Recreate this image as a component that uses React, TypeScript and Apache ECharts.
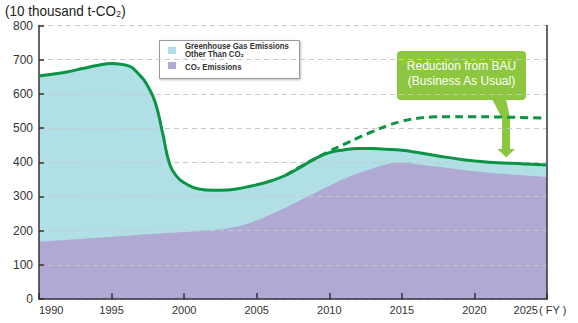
import React, { useEffect, useRef } from "react";
import * as echarts from "echarts";

// Total greenhouse gas emissions (10 thousand t-CO2)
const totalYears = [1990, 1991, 1992, 1993, 1994, 1995, 1996, 1997, 1997.5, 1998, 1998.5, 1999, 1999.5, 2000, 2001, 2002, 2003, 2004, 2005, 2006, 2007, 2008, 2009, 2010, 2011, 2012, 2013, 2014, 2015, 2016, 2017, 2018, 2019, 2020, 2021, 2022, 2023, 2024, 2025];
const totalValues = [652, 658, 665, 674, 683, 689, 684, 652, 622, 576, 489, 395, 358, 340, 322, 318, 319, 325, 334, 346, 362, 385, 410, 428, 436, 440, 440, 438, 435, 429, 422, 415, 409, 404, 400, 398, 396, 394, 392];

// CO2 emissions
const co2Years = [1990, 1992, 1995, 1998, 2000, 2002, 2003, 2004, 2005, 2006, 2007, 2008, 2009, 2010, 2011, 2012, 2013, 2014, 2015, 2016, 2018, 2020, 2022, 2025];
const co2Values = [167, 173, 182, 191, 196, 202, 207, 216, 230, 248, 268, 289, 310, 331, 351, 368, 382, 394, 399, 394, 384, 374, 366, 357];

// BAU (Business As Usual) projection
const bauYears = [2007, 2008, 2009, 2010, 2011, 2012, 2013, 2014, 2015, 2016, 2017, 2018, 2020, 2022, 2025];
const bauValues = [362, 387, 410, 432, 452, 472, 490, 507, 520, 528, 532, 533, 533, 532, 529];

const xTicks = [1990, 1995, 2000, 2005, 2010, 2015, 2020, 2025];
const yTicks = [0, 100, 200, 300, 400, 500, 600, 700, 800];

const seriesNames = {
  other: "Greenhouse Gas Emissions Other Than CO₂",
  co2: "CO₂ Emissions",
  bau: "BAU",
  total: "Total",
};

const pairs = (xs: number[], ys: number[]) => xs.map((x, i) => [x, ys[i]]);

const CYAN = "#b0e0e5";
const PURPLE = "#afa9d4";
const GREEN = "#0b9444";
const CALLOUT = "#8dc63f";
const SANS = "'Liberation Sans', Arial, sans-serif";
const SMOOTH = 0.5;

export default function App() {
  const ref = useRef<HTMLDivElement>(null);
  useEffect(() => {
    if (!ref.current) return;
    const chart = echarts.init(ref.current, null, { renderer: "svg" });
    const option: any = {
      animation: false,
      grid: { left: 39, right: 31, top: 25.5, bottom: 24, containLabel: false },
      xAxis: {
        type: "value",
        min: xTicks[0],
        max: xTicks[xTicks.length - 1],
        interval: 5,
        z: 3,
        axisLine: { show: true, lineStyle: { color: "#333", width: 1.5 } },
        axisTick: { show: true, inside: true, length: 6, lineStyle: { color: "#333", width: 1.5 } },
        splitLine: { show: false },
        axisLabel: {
          fontSize: 11,
          color: "#333",
          fontFamily: SANS,
          margin: 5,
          alignMinLabel: "left",
          alignMaxLabel: "right",
          formatter: (v: number) => (v === xTicks[xTicks.length - 1] ? `{last|${v}}` : `${v}`),
          rich: { last: { fontSize: 11, color: "#333", fontFamily: SANS, padding: [0, 9, 0, 0] } },
        },
      },
      yAxis: [
        {
          type: "value",
          min: yTicks[0],
          max: yTicks[yTicks.length - 1],
          interval: 100,
          z: 3,
          axisLine: { show: true, lineStyle: { color: "#333", width: 1.5 } },
          axisTick: { show: true, inside: true, length: 5, lineStyle: { color: "#333", width: 1.5 } },
          splitLine: { show: true, lineStyle: { color: "#c8c8c8", type: [5, 4], width: 1 } },
          axisLabel: { fontSize: 12, color: "#333", fontFamily: SANS, margin: 6 },
        },
        {
          type: "value",
          position: "right",
          min: yTicks[0],
          max: yTicks[yTicks.length - 1],
          interval: 100,
          z: 3,
          axisLine: { show: true, lineStyle: { color: "#333", width: 1.5 } },
          axisTick: { show: false },
          axisLabel: { show: false },
          splitLine: { show: false },
        },
      ],
      series: [
        {
          name: seriesNames.other,
          type: "line",
          data: pairs(totalYears, totalValues),
          smooth: SMOOTH,
          symbol: "none",
          lineStyle: { width: 0 },
          itemStyle: { color: CYAN },
          areaStyle: { color: CYAN, opacity: 1 },
          z: 1,
        },
        {
          name: seriesNames.co2,
          type: "line",
          data: pairs(co2Years, co2Values),
          smooth: SMOOTH,
          symbol: "none",
          lineStyle: { width: 0 },
          itemStyle: { color: PURPLE },
          areaStyle: { color: PURPLE, opacity: 1 },
          z: 1,
        },
        {
          name: seriesNames.bau,
          type: "line",
          data: pairs(bauYears, bauValues),
          smooth: SMOOTH,
          symbol: "none",
          lineStyle: { width: 3, color: GREEN, type: [8, 5] },
          z: 5,
        },
        {
          name: seriesNames.total,
          type: "line",
          data: pairs(totalYears, totalValues),
          smooth: SMOOTH,
          symbol: "none",
          lineStyle: { width: 3, color: GREEN },
          z: 6,
        },
      ],
      graphic: [
        {
          type: "text",
          x: 5,
          y: 3,
          scaleX: 0.9,
          z: 10,
          style: { text: "(10 thousand t-CO₂)", fontSize: 15, fontFamily: SANS, fill: "#222" },
        },
        {
          type: "text",
          x: 539,
          y: 304,
          z: 10,
          style: { text: "( FY )", fontSize: 11, fontFamily: SANS, fill: "#333" },
        },
        // legend box
        {
          type: "group",
          z: 10,
          children: [
            {
              type: "rect",
              shape: { x: 159.5, y: 40.5, width: 140, height: 38 },
              style: { fill: "#fff", stroke: "#999", lineWidth: 1, shadowColor: "rgba(0,0,0,0.25)", shadowBlur: 2, shadowOffsetX: 1, shadowOffsetY: 1 },
            },
            { type: "rect", shape: { x: 168, y: 47, width: 8, height: 7 }, style: { fill: CYAN } },
            { type: "rect", shape: { x: 168, y: 62, width: 8, height: 7 }, style: { fill: PURPLE } },
            {
              type: "text",
              x: 185,
              y: 42.5,
              scaleX: 0.87,
              style: { text: "Greenhouse Gas Emissions\nOther Than CO₂", fontSize: 9, lineHeight: 7.5, fontWeight: "bold", fontFamily: SANS, fill: "#333", verticalAlign: "top" },
            },
            {
              type: "text",
              x: 185,
              y: 66.5,
              scaleX: 0.87,
              style: { text: "CO₂ Emissions", fontSize: 9, fontWeight: "bold", fontFamily: SANS, fill: "#333", verticalAlign: "middle" },
            },
          ],
        },
        // callout
        {
          type: "group",
          z: 10,
          children: [
            { type: "rect", shape: { x: 397, y: 51, width: 129, height: 49, r: 4 }, style: { fill: CALLOUT } },
            { type: "polygon", shape: { points: [[492, 99], [506, 99], [510, 118], [502, 118]] }, style: { fill: CALLOUT } },
            { type: "rect", shape: { x: 502, y: 116, width: 8, height: 34 }, style: { fill: CALLOUT } },
            { type: "polygon", shape: { points: [[497.5, 149], [515, 149], [506.2, 157.5]] }, style: { fill: CALLOUT } },
            {
              type: "text",
              x: 461.5,
              y: 66,
              style: { text: "Reduction from BAU", fontSize: 12, fontFamily: SANS, fill: "#fff", align: "center", verticalAlign: "middle" },
            },
            {
              type: "text",
              x: 461.5,
              y: 81,
              style: { text: "(Business As Usual)", fontSize: 12, fontFamily: SANS, fill: "#fff", align: "center", verticalAlign: "middle" },
            },
          ],
        },
      ],
    };
    chart.setOption(option);
    return () => chart.dispose();
  }, []);
  return <div ref={ref} style={{ position: "fixed", left: 0, top: 0, width: 578, height: 323, background: "#fff" }} />;
}
